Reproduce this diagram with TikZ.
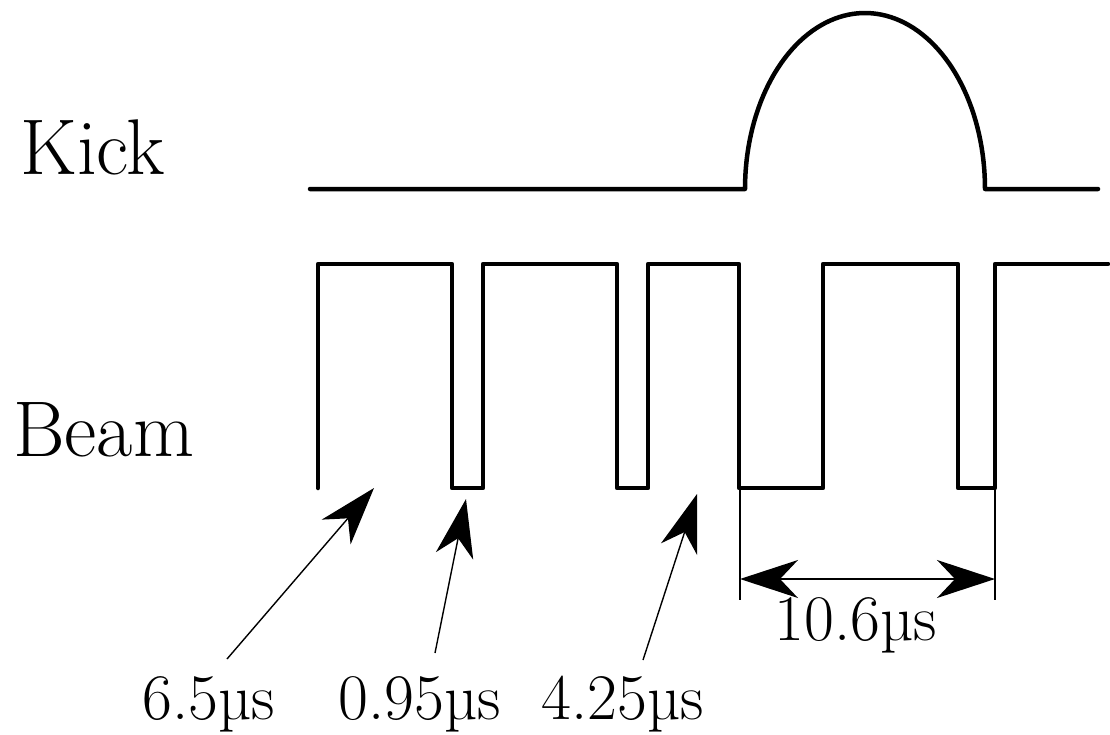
\documentclass[tikz,border=0pt]{standalone}
\usepackage{fontspec}
\usetikzlibrary{arrows.meta}
\begin{document}
\begin{tikzpicture}[x=1pt,y=-1pt,
  wave/.style={line width=4.5pt, line join=round, line cap=round},
  thinline/.style={line width=1.4pt},
  bighead/.style={-{Stealth[length=58pt,width=38pt,inset=18pt]}},
  dimarrow/.style={{Stealth[length=58pt,width=38pt,inset=18pt]}-{Stealth[length=58pt,width=38pt,inset=18pt]}},
  title/.style={font=\fontsize{79}{84}\selectfont, inner sep=0pt, anchor=base west},
  lab/.style={font=\fontsize{65}{70}\selectfont, inner sep=0pt, anchor=base}]
\useasboundingbox (0,0) rectangle (1110,734);

% titles
\node[title] (kick) at (20,174) {Kick};
\node[title] (beam) at (13,456) {Beam};

% kick waveform
\draw[wave] (310,189) -- (745,189)
  -- plot[domain=180:360, samples=80] ({865+120*cos(\x)},{189+176*sin(\x)})
  -- (1098,189);

% beam waveform
\draw[wave] (318,488) -- (318,264) -- (452,264) -- (452,488) -- (483,488)
  -- (483,264) -- (617,264) -- (617,488) -- (648,488) -- (648,264)
  -- (739,264) -- (739,488) -- (823,488) -- (823,264) -- (958,264)
  -- (958,488) -- (995,488) -- (995,264) -- (1108,264);

% pointer arrows
\coordinate (t1) at (227,659); \coordinate (h1) at (374,488);
\coordinate (t2) at (435,653); \coordinate (h2) at (466,499);
\coordinate (t3) at (643,660); \coordinate (h3) at (697,494);
\draw[thinline,bighead] (t1) -- (h1);
\draw[thinline,bighead] (t2) -- (h2);
\draw[thinline,bighead] (t3) -- (h3);

% dimension
\coordinate (e1a) at (740,488); \coordinate (e1b) at (740,600);
\coordinate (e2a) at (995,488); \coordinate (e2b) at (995,600);
\coordinate (d1) at (740,579); \coordinate (d2) at (995,579);
\draw[thinline] (e1a) -- (e1b);
\draw[thinline] (e2a) -- (e2b);
\draw[thinline,dimarrow] (d1) -- (d2);

% labels
\node[lab] (l1) at (209,719) {6.5µs};
\node[lab] (l2) at (420,719) {0.95µs};
\node[lab] (l3) at (623,719) {4.25µs};
\node[lab] (l4) at (856,640) {10.6µs};
\end{tikzpicture}
\end{document}
